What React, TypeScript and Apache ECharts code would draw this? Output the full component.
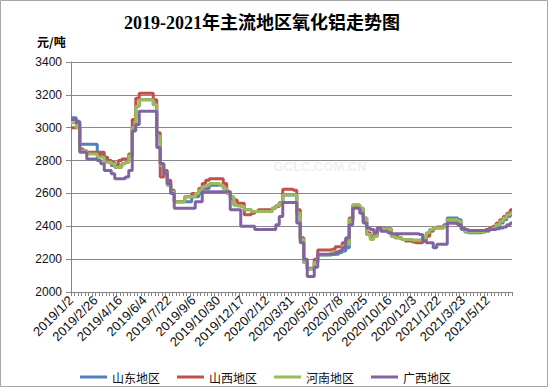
import React, { useEffect, useRef } from "react";
import * as echarts from "echarts";

const titleText = "2019-2021年主流地区氧化铝走势图";
const unitText = "元/吨";
const seriesNames = ["山东地区", "山西地区", "河南地区", "广西地区"];
const seriesColors = ["#4F81BD", "#C0504D", "#9BBB59", "#8064A2"];

const dateLabels = [
  "2019/1/2", "2019/2/26", "2019/4/16", "2019/6/4", "2019/7/22", "2019/9/6",
  "2019/10/30", "2019/12/17", "2020/2/12", "2020/3/31", "2020/5/20", "2020/7/8",
  "2020/8/25", "2020/10/16", "2020/12/3", "2021/1/22", "2021/3/23", "2021/5/12",
];

const yTicks = { min: 2000, max: 3400, step: 200 };

const shandong = [
  3060, 3060, 3040, 2900, 2900, 2900, 2900, 2900, 2850, 2830, 2800, 2790, 2770, 2760, 2760, 2780, 2790, 2830, 3000, 3130, 3170, 3170, 3170, 3170, 3140, 2950, 2780, 2720, 2650, 2600, 2550, 2550, 2550, 2550, 2550, 2580, 2580, 2600, 2630, 2630, 2650, 2650, 2650,
  2650, 2630, 2600, 2580, 2530, 2525, 2520, 2500, 2500, 2490, 2490, 2490, 2490, 2490, 2490, 2510, 2525, 2540, 2590, 2590, 2590, 2590, 2480, 2320, 2180, 2140, 2140, 2180, 2225, 2225, 2225, 2225, 2230, 2230, 2240, 2250, 2270, 2440, 2520, 2520, 2510, 2450,
  2350, 2330, 2340, 2385, 2385, 2380, 2380, 2340, 2330, 2330, 2320, 2320, 2320, 2315, 2315, 2315, 2330, 2355, 2380, 2390, 2390, 2390, 2410, 2450, 2450, 2450, 2440, 2380, 2365, 2360, 2360, 2360, 2360, 2365, 2370, 2380, 2385, 2400, 2420, 2440, 2460, 2470,
];

const shanxi = [
  3000, 3000, 3000, 2870, 2860, 2850, 2850, 2850, 2840, 2850, 2820, 2800, 2790, 2770, 2800, 2810, 2810, 2840, 3050, 3180, 3210, 3210, 3210, 3210, 3170, 2970, 2700, 2740, 2680, 2620, 2550, 2550, 2550, 2580, 2580, 2600, 2600, 2630, 2660, 2680, 2690, 2690, 2690,
  2690, 2660, 2610, 2570, 2560, 2540, 2540, 2470, 2470, 2480, 2490, 2500, 2500, 2500, 2500, 2510, 2520, 2545, 2625, 2625, 2625, 2620, 2500, 2330, 2180, 2145, 2145, 2200, 2255, 2255, 2255, 2255, 2260, 2275, 2275, 2300, 2320, 2450, 2530, 2530, 2500, 2430,
  2360, 2340, 2350, 2390, 2390, 2385, 2385, 2350, 2340, 2330, 2320, 2310, 2310, 2305, 2300, 2300, 2310, 2340, 2370, 2390, 2395, 2395, 2400, 2420, 2420, 2420, 2410, 2385, 2375, 2375, 2375, 2375, 2375, 2375, 2380, 2390, 2400, 2420, 2440, 2460, 2480, 2500,
];

const henan = [
  3030, 3030, 3000, 2860, 2860, 2840, 2840, 2840, 2820, 2820, 2790, 2790, 2780, 2760, 2760, 2780, 2790, 2830, 3000, 3130, 3170, 3170, 3170, 3170, 3140, 2950, 2770, 2720, 2650, 2610, 2550, 2550, 2550, 2580, 2580, 2580, 2600, 2620, 2640, 2650, 2660, 2660, 2660,
  2650, 2630, 2600, 2580, 2530, 2525, 2520, 2500, 2500, 2490, 2490, 2490, 2490, 2490, 2490, 2510, 2525, 2540, 2590, 2590, 2590, 2590, 2480, 2320, 2180, 2140, 2140, 2180, 2225, 2225, 2225, 2230, 2245, 2245, 2250, 2280, 2290, 2440, 2530, 2530, 2510, 2450,
  2350, 2320, 2340, 2385, 2385, 2380, 2380, 2340, 2330, 2330, 2320, 2320, 2320, 2315, 2315, 2315, 2330, 2360, 2380, 2390, 2390, 2390, 2400, 2440, 2440, 2440, 2430, 2390, 2370, 2365, 2365, 2365, 2365, 2365, 2370, 2380, 2390, 2410, 2430, 2450, 2470, 2480,
];

const guangxi = [
  3050, 3050, 3030, 2850, 2850, 2810, 2810, 2810, 2800, 2780, 2740, 2740, 2720, 2690, 2690, 2690, 2700, 2740, 2980, 3020, 3100, 3100, 3100, 3100, 3100, 2880, 2780, 2720, 2660, 2600, 2510, 2510, 2510, 2510, 2510, 2510, 2550, 2550, 2610, 2610, 2610, 2610, 2610,
  2610, 2610, 2610, 2500, 2500, 2500, 2400, 2400, 2400, 2400, 2380, 2380, 2380, 2380, 2380, 2380, 2410, 2460, 2545, 2545, 2545, 2545, 2420, 2300, 2200, 2095, 2095, 2150, 2230, 2230, 2230, 2230, 2230, 2240, 2250, 2270, 2330, 2410, 2510, 2510, 2480, 2420,
  2390, 2380, 2360, 2390, 2370, 2370, 2360, 2355, 2355, 2355, 2355, 2355, 2355, 2355, 2355, 2350, 2310, 2300, 2300, 2270, 2290, 2290, 2290, 2420, 2420, 2420, 2410, 2390, 2380, 2375, 2375, 2375, 2375, 2375, 2375, 2380, 2380, 2385, 2390, 2395, 2410, 2420,
];

const seriesValues = [shandong, shanxi, henan, guangxi];
const perLabel = 7;
const categories = shandong.map((_, i) =>
  i % perLabel === 0 && dateLabels[i / perLabel]
    ? dateLabels[i / perLabel]
    : `${dateLabels[Math.min(Math.floor(i / perLabel), dateLabels.length - 1)]}#${i}`
);

const latin = "'Liberation Sans', 'Noto Sans CJK SC', sans-serif";

export default function App() {
  const ref = useRef<HTMLDivElement>(null);
  useEffect(() => {
    if (!ref.current) return;
    const chart = echarts.init(ref.current, undefined, { renderer: "svg" });
    chart.setOption({
      animation: false,
      backgroundColor: "#ffffff",
      textStyle: { fontFamily: latin },
      grid: { left: 71, right: 36, top: 62, bottom: 95 },
      graphic: [
        {
          type: "rect",
          shape: { x: 0.5, y: 0.5, width: 547, height: 386 },
          style: { fill: "none", stroke: "#a6a6a6", lineWidth: 1 },
          silent: true,
        },
        {
          type: "text",
          x: 262,
          y: 23,
          style: {
            text: titleText,
            textAlign: "center",
            textVerticalAlign: "middle",
            font: "bold 18px 'Liberation Serif', 'Noto Sans CJK SC', serif",
            fill: "#000",
          },
        },
        {
          type: "text",
          x: 37,
          y: 41,
          style: {
            text: unitText,
            textAlign: "left",
            textVerticalAlign: "middle",
            font: "bold 12px 'Noto Sans CJK SC', sans-serif",
            fill: "#000",
          },
        },
        {
          type: "text",
          x: 320,
          y: 166,
          style: {
            text: "GCLC.COM.CN",
            textAlign: "center",
            textVerticalAlign: "middle",
            font: "bold 13px 'Liberation Sans', sans-serif",
            fill: "#f0f0f0",
          },
          z: -1,
        },
      ],
      legend: {
        left: 75,
        top: 366,
        icon: "rect",
        itemWidth: 27,
        itemHeight: 3,
        itemGap: 17,
        textStyle: { fontSize: 12, color: "#111", fontFamily: "'Noto Sans CJK SC', sans-serif" },
        data: seriesNames,
      },
      xAxis: {
        type: "category",
        data: categories,
        boundaryGap: false,
        axisLine: { lineStyle: { color: "#868686", width: 1 } },
        axisTick: { show: true, interval: 0, length: 4, lineStyle: { color: "#868686" } },
        axisLabel: {
          interval: perLabel - 1,
          rotate: 45,
          fontSize: 13,
          color: "#111",
          margin: 6,
          formatter: (v: string) => (v.includes("#") ? "" : v),
        },
        splitLine: { show: false },
      },
      yAxis: {
        type: "value",
        min: yTicks.min,
        max: yTicks.max,
        interval: yTicks.step,
        axisLine: { show: true, lineStyle: { color: "#868686" } },
        axisTick: { show: true, length: 5, lineStyle: { color: "#868686" } },
        axisLabel: { fontSize: 12, color: "#111", margin: 9, formatter: (v: number) => String(v) },
        splitLine: { show: true, lineStyle: { color: "#898989", width: 1 } },
      },
      series: seriesNames.map((name, k) => ({
        name,
        type: "line",
        data: seriesValues[k],
        step: "middle",
        showSymbol: false,
        symbol: "none",
        lineStyle: { width: 3, color: seriesColors[k] },
        itemStyle: { color: seriesColors[k] },
        z: 2 + k,
      })),
    });
    return () => chart.dispose();
  }, []);
  return (
    <div
      ref={ref}
      style={{ position: "absolute", left: 0, top: 0, width: 548, height: 387, background: "#fff" }}
    />
  );
}
